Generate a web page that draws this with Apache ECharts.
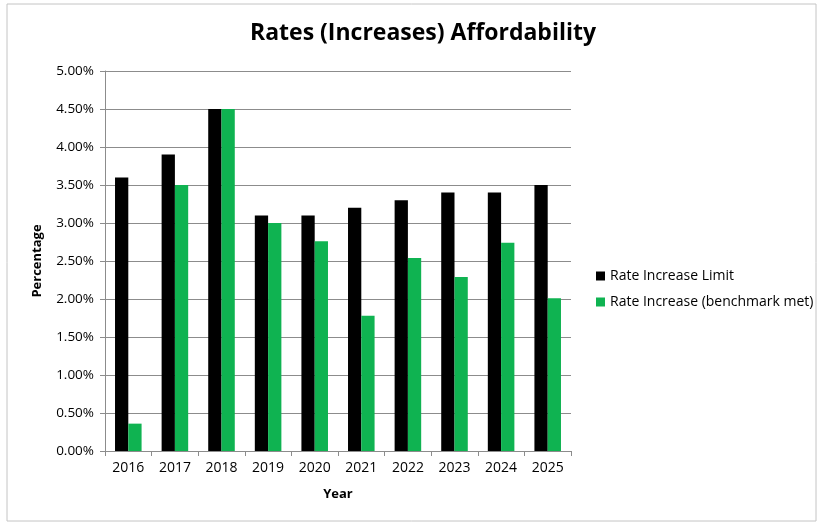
<!DOCTYPE html>
<html>
<head>
<meta charset="utf-8">
<script src="https://cdn.jsdelivr.net/npm/echarts@6/dist/echarts.min.js"></script>
<style>
  html, body { margin: 0; padding: 0; background: #fff; }
  #chart { width: 821px; height: 523px; }
</style>
</head>
<body>
<div id="chart"></div>
<script>
// Year categories along the x axis
const years = ['2016', '2017', '2018', '2019', '2020', '2021', '2022', '2023', '2024', '2025'];
// Annual rate increase limit (%)
const rateLimit = [3.60, 3.90, 4.50, 3.10, 3.10, 3.20, 3.30, 3.40, 3.40, 3.50];
// Actual rate increase where the benchmark was met (%)
const rateActual = [0.36, 3.50, 4.50, 3.00, 2.76, 1.78, 2.54, 2.29, 2.74, 2.01];
// Y axis range (%)
const yMin = 0, yMax = 5, yStep = 0.5;

const font = '"Open Sans", "Noto Sans", sans-serif';
const chart = echarts.init(document.getElementById('chart'), null, { renderer: 'canvas' });

chart.setOption({
  backgroundColor: '#ffffff',
  animation: false,
  graphic: [{
    type: 'rect',
    shape: { x: 7, y: 4, width: 809, height: 517 },
    style: { fill: 'none', stroke: '#c4c4c4', lineWidth: 1 },
    silent: true
  }],
  title: {
    text: 'Rates (Increases) Affordability',
    left: 418, top: 17, textAlign: 'center',
    textStyle: { fontFamily: font, fontSize: 23, fontWeight: 'bold', color: '#000' }
  },
  legend: {
    orient: 'vertical',
    left: 591, top: 264,
    itemWidth: 9, itemHeight: 9, itemGap: 12,
    icon: 'rect',
    textStyle: { fontFamily: font, fontSize: 14, color: '#000' },
    data: ['Rate Increase Limit', 'Rate Increase (benchmark met)']
  },
  grid: { left: 105, right: 250, top: 71, bottom: 72, containLabel: false },
  xAxis: {
    type: 'category',
    data: years,
    name: 'Year',
    nameLocation: 'middle',
    nameGap: 37,
    nameTextStyle: { fontFamily: font, fontSize: 13, fontWeight: 'bold', color: '#000' },
    axisLine: { lineStyle: { color: '#8c8c8c' } },
    axisTick: { show: true, alignWithLabel: false, length: 5, lineStyle: { color: '#8c8c8c' } },
    axisLabel: { fontFamily: font, fontSize: 14, color: '#000', margin: 10 }
  },
  yAxis: {
    type: 'value',
    min: yMin, max: yMax, interval: yStep,
    name: 'Percentage',
    nameLocation: 'middle',
    nameGap: 61,
    nameTextStyle: { fontFamily: font, fontSize: 13, fontWeight: 'bold', color: '#000' },
    axisLine: { show: true, lineStyle: { color: '#8c8c8c' } },
    axisTick: { show: true, length: 5, lineStyle: { color: '#8c8c8c' } },
    axisLabel: {
      fontFamily: font, fontSize: 13.5, color: '#000', margin: 11,
      formatter: v => v.toFixed(2) + '%'
    },
    splitLine: { lineStyle: { color: '#8c8c8c', width: 1 } }
  },
  series: [
    {
      name: 'Rate Increase Limit',
      type: 'bar',
      data: rateLimit,
      barGap: '0%',
      barCategoryGap: '43%',
      itemStyle: { color: '#000000' }
    },
    {
      name: 'Rate Increase (benchmark met)',
      type: 'bar',
      data: rateActual,
      barGap: '0%',
      barCategoryGap: '43%',
      itemStyle: { color: '#0fb351' }
    }
  ]
});
</script>
</body>
</html>
